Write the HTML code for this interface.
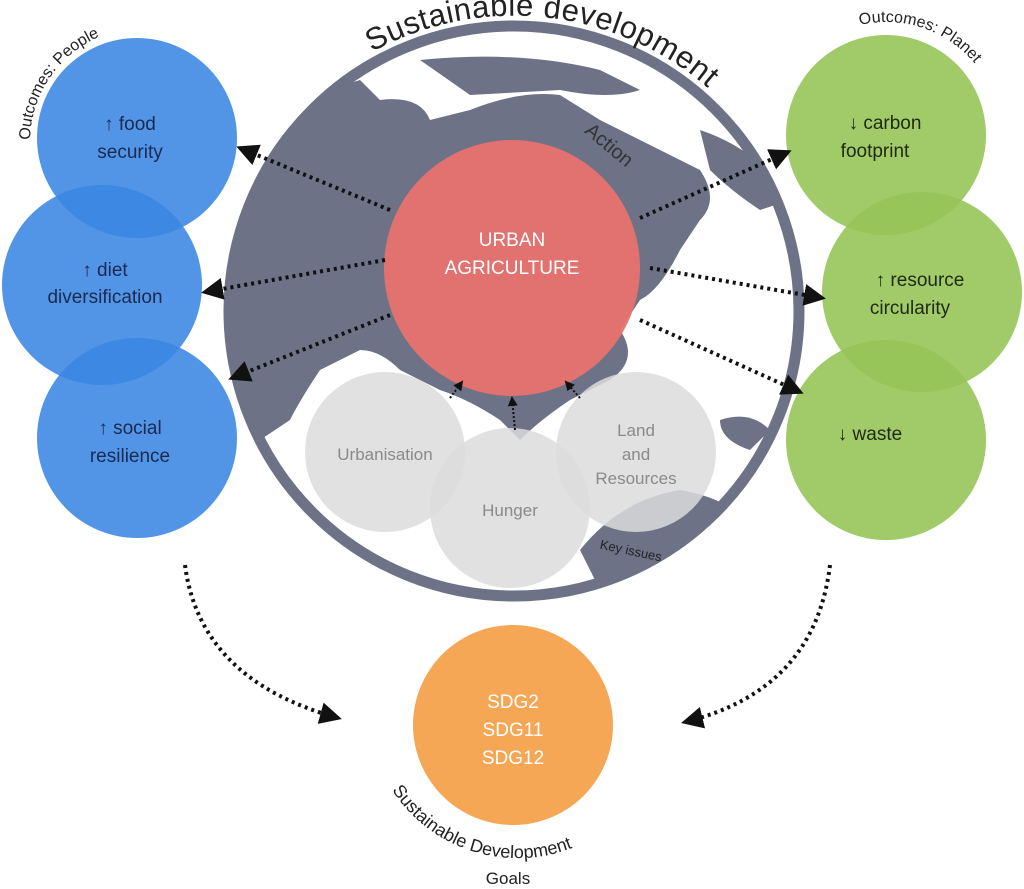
<!DOCTYPE html>
<html><head><meta charset="utf-8"><style>
html,body{margin:0;padding:0;background:#fff;}
svg{display:block;font-family:"Liberation Sans",sans-serif;}
</style></head><body>
<svg width="1024" height="889" viewBox="0 0 1024 889" xmlns="http://www.w3.org/2000/svg">
<defs>
<marker id="ah" markerWidth="10" markerHeight="10" refX="8" refY="5" orient="auto" markerUnits="userSpaceOnUse">
<path d="M0,0 L10,5 L0,10 z" fill="#111"/></marker>
<marker id="ahb" markerWidth="22" markerHeight="22" refX="18" refY="11" orient="auto" markerUnits="userSpaceOnUse">
<path d="M0,0 L22,11 L0,22 z" fill="#111"/></marker>
<path id="topArc" d="M372,52 A296,296 0 0 1 770,163"/>
<path id="leftArc" d="M30,140 A115,115 0 0 1 170,30"/>
<path id="rightArc" d="M860,25 A115,115 0 0 1 1000,120"/>
<path id="botArc" d="M392,790 A150,150 0 0 0 640,795"/>
<clipPath id="inner"><circle cx="514" cy="311" r="280"/></clipPath>
</defs>

<circle cx="514" cy="311" r="280" fill="#fff"/>
<g clip-path="url(#inner)" fill="#6d7287">
<path d="M230,200 Q260,110 360,80 L380,100 Q420,95 430,120 L470,110 Q520,90 560,95 L600,120 Q640,140 660,150 L700,170 Q720,200 700,220 L680,250 Q660,290 640,300 L620,330 Q640,360 610,380 L570,400 Q540,420 520,440 L500,420 Q470,400 440,390 L400,370 Q380,350 360,350 L320,370 Q300,400 290,420 L260,440 Q235,380 230,320 Z"/>
<path d="M420,60 Q520,50 600,70 L640,90 Q610,100 560,90 L470,95 Z"/>
<path d="M700,130 Q760,150 790,200 L760,210 Q730,190 710,170 Z"/>
<path d="M580,550 Q620,500 680,490 Q740,500 760,540 L740,580 Q680,600 600,590 Z"/>
<path d="M720,420 Q750,410 770,430 L750,450 Q720,440 720,420 Z"/>
</g>
<circle cx="514" cy="311" r="285" fill="none" stroke="#6d7287" stroke-width="11"/>

<g fill="#dcdcdc" fill-opacity="0.85">
<circle cx="385" cy="452" r="80"/>
<circle cx="636" cy="452" r="80"/>
<circle cx="510" cy="508" r="80"/>
</g>
<g font-size="17" fill="#8a8a8a" text-anchor="middle">
<text x="385" y="460">Urbanisation</text>
<text x="510" y="516">Hunger</text>
<text x="636" y="436">Land</text>
<text x="636" y="460">and</text>
<text x="636" y="484">Resources</text>
</g>
<text x="630" y="555" font-size="13" fill="#222" transform="rotate(12 630 555)" text-anchor="middle">Key issues</text>

<circle cx="512" cy="268" r="128" fill="#e8726e" fill-opacity="0.95"/>
<text x="512" y="246" font-size="19" fill="#fff" text-anchor="middle">URBAN</text>
<text x="512" y="274" font-size="19" fill="#fff" text-anchor="middle">AGRICULTURE</text>
<text x="605" y="150" font-size="20" fill="#333" transform="rotate(40 605 150)" text-anchor="middle">Action</text>

<g stroke="#111" stroke-width="2" stroke-dasharray="2,2" marker-end="url(#ah)">
<line x1="450" y1="398" x2="462" y2="382"/>
<line x1="515" y1="430" x2="512" y2="398"/>
<line x1="580" y1="398" x2="566" y2="382"/>
</g>

<g fill="#3a86e2" fill-opacity="0.88">
<circle cx="137" cy="138" r="100"/>
<circle cx="102" cy="285" r="100"/>
<circle cx="137" cy="438" r="100"/>
</g>
<g font-size="19" fill="#1a2a50" text-anchor="middle">
<text x="130" y="130">↑ food</text><text x="130" y="158">security</text>
<text x="105" y="276">↑ diet</text><text x="105" y="303">diversification</text>
<text x="130" y="434">↑ social</text><text x="130" y="462">resilience</text>
</g>

<g fill="#97c459" fill-opacity="0.9">
<circle cx="886" cy="135" r="100"/>
<circle cx="922" cy="292" r="100"/>
<circle cx="886" cy="440" r="100"/>
</g>
<g font-size="19" fill="#1f2a10" text-anchor="middle">
<text x="885" y="129">↓ carbon</text><text x="875" y="157">footprint</text>
<text x="920" y="286">↑ resource</text><text x="910" y="314">circularity</text>
<text x="870" y="440">↓ waste</text>
</g>

<circle cx="513" cy="725" r="100" fill="#f5a755"/>
<g font-size="19" fill="#fff" text-anchor="middle">
<text x="513" y="708">SDG2</text><text x="513" y="736">SDG11</text><text x="513" y="764">SDG12</text>
</g>

<g stroke="#111" stroke-width="4" stroke-dasharray="3,4" fill="none" marker-end="url(#ahb)">
<line x1="390" y1="210" x2="240" y2="148"/>
<line x1="385" y1="260" x2="205" y2="292"/>
<line x1="390" y1="315" x2="232" y2="378"/>
<line x1="640" y1="218" x2="788" y2="152"/>
<line x1="650" y1="268" x2="822" y2="298"/>
<line x1="640" y1="320" x2="800" y2="392"/>
<path d="M185,565 Q200,680 338,718"/>
<path d="M830,565 Q815,690 685,722"/>
</g>

<text font-size="31" fill="#222" letter-spacing="0.5"><textPath href="#topArc">Sustainable development</textPath></text>
<text font-size="16" fill="#222"><textPath href="#leftArc">Outcomes: People</textPath></text>
<text font-size="16" fill="#222"><textPath href="#rightArc">Outcomes: Planet</textPath></text>
<text font-size="18" fill="#222"><textPath href="#botArc">Sustainable Development</textPath></text>
<text x="508" y="884" font-size="17" fill="#222" text-anchor="middle">Goals</text>
</svg>
</body></html>
